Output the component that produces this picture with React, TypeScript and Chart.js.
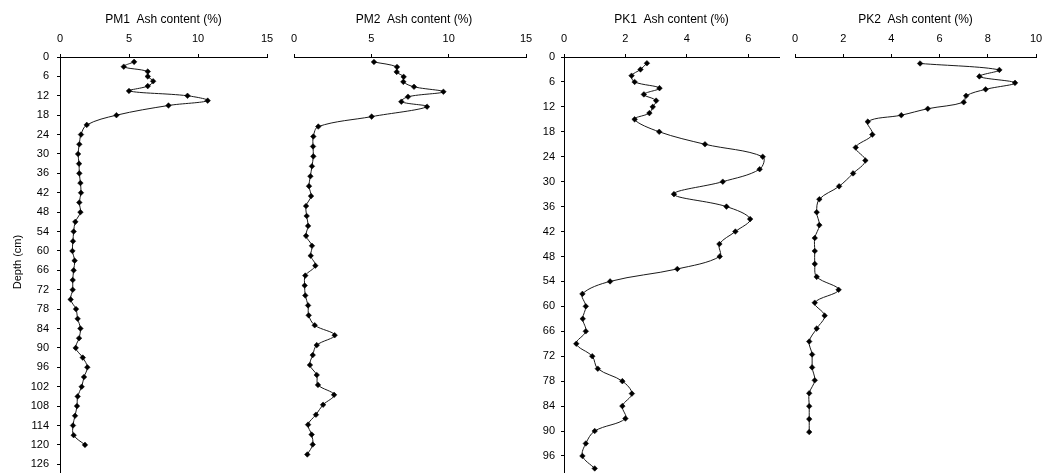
import React, { useEffect, useRef } from 'react';
import { Chart, registerables } from 'chart.js';

Chart.register(...registerables);

const FONT = '"Liberation Sans", Arial, Helvetica, sans-serif';

// Depths (cm) of the samples
const depthPM = [1.5, 3, 4.5, 6, 7.5, 9, 10.5, 12, 13.5, 15, 18, 21, 24, 27, 30, 33, 36, 39, 42, 45, 48, 51, 54, 57, 60, 63, 66, 69, 72, 75, 78, 81, 84, 87, 90, 93, 96, 99, 102, 105, 108, 111, 114, 117, 120];
const depthPK1 = [1.5, 3, 4.5, 6, 7.5, 9, 10.5, 12, 13.5, 15, 18, 21, 24, 27, 30, 33, 36, 39, 42, 45, 48, 51, 54, 57, 60, 63, 66, 69, 72, 75, 78, 81, 84, 87, 90, 93, 96, 99];
const depthPK2 = [1.5, 3, 4.5, 6, 7.5, 9, 10.5, 12, 13.5, 15, 18, 21, 24, 27, 30, 33, 36, 39, 42, 45, 48, 51, 54, 57, 60, 63, 66, 69, 72, 75, 78, 81, 84, 87];

// Ash content (%)
const pm1Ash = [5.37, 4.62, 6.36, 6.36, 6.75, 6.36, 5.0, 9.24, 10.7, 7.86, 4.09, 1.94, 1.52, 1.4, 1.31, 1.38, 1.4, 1.48, 1.52, 1.4, 1.48, 1.11, 0.99, 0.94, 0.9, 1.06, 0.99, 0.92, 0.92, 0.77, 1.16, 1.28, 1.48, 1.38, 1.14, 1.65, 1.98, 1.74, 1.57, 1.28, 1.23, 1.09, 0.94, 0.99, 1.81];
const pm2Ash = [5.17, 6.66, 6.64, 7.09, 7.07, 7.76, 9.66, 7.37, 6.94, 8.6, 5.02, 1.57, 1.25, 1.23, 1.25, 1.16, 1.06, 0.97, 1.1, 0.78, 0.82, 0.91, 0.78, 1.16, 1.08, 1.38, 0.73, 0.69, 0.73, 0.91, 0.95, 1.34, 2.63, 1.47, 1.21, 1.03, 1.47, 1.55, 2.59, 1.88, 1.42, 0.91, 1.14, 1.21, 0.86];
const pk1Ash = [2.7, 2.49, 2.2, 2.3, 3.11, 2.6, 3.0, 2.89, 2.78, 2.3, 3.1, 4.59, 6.47, 6.37, 5.17, 3.58, 5.29, 6.06, 5.58, 5.06, 5.07, 3.69, 1.5, 0.6, 0.71, 0.61, 0.71, 0.4, 0.92, 1.1, 1.9, 2.21, 1.9, 2.0, 1.0, 0.71, 0.6, 1.0];
const pk2Ash = [5.19, 8.48, 7.65, 9.13, 7.91, 7.1, 7.0, 5.51, 4.41, 3.02, 3.21, 2.52, 2.92, 2.41, 1.83, 1.01, 0.9, 1.01, 0.82, 0.82, 0.82, 0.9, 1.81, 0.82, 1.23, 0.9, 0.59, 0.71, 0.71, 0.82, 0.59, 0.59, 0.59, 0.59];

const panelTitles = ['PM1  Ash content (%)', 'PM2  Ash content (%)', 'PK1  Ash content (%)', 'PK2  Ash content (%)'];
const depthTitle = 'Depth (cm)';

type PanelDef = {
  title: string;
  depths: number[];
  values: number[];
  xMax: number;
  xStep: number;
  yMax: number;
  showY: boolean;
  yTitle: boolean;
  canvasLeft: number;
  width: number;
  padLeft: number;
  yWidth: number;
  yTickPad: number;
  titleDx: number;
};

const CANVAS_H = 500;
const PAD_BOTTOM = 27;
const AXIS_H = 57;

const panels: PanelDef[] = [
  { title: panelTitles[0], depths: depthPM, values: pm1Ash, xMax: 15, xStep: 5, yMax: 128.7, showY: true, yTitle: true, canvasLeft: 0, width: 283, padLeft: 0, yWidth: 60, yTickPad: 8, titleDx: 0 },
  { title: panelTitles[1], depths: depthPM, values: pm2Ash, xMax: 15, xStep: 5, yMax: 125.6, showY: false, yTitle: false, canvasLeft: 280, width: 262, padLeft: 14, yWidth: 0, yTickPad: 8, titleDx: 4 },
  { title: panelTitles[2], depths: depthPK1, values: pk1Ash, xMax: 7, xStep: 2, yMax: 100.1, showY: true, yTitle: false, canvasLeft: 524, width: 271, padLeft: 0, yWidth: 40, yTickPad: 6, titleDx: 0 },
  { title: panelTitles[3], depths: depthPK2, values: pk2Ash, xMax: 10, xStep: 2, yMax: 96.5, showY: false, yTitle: false, canvasLeft: 781, width: 271, padLeft: 14, yWidth: 0, yTickPad: 8, titleDx: 0 },
];

const titlePlugin = {
  id: 'panelTitle',
  afterDraw(chart: any, _args: any, opts: any) {
    const { ctx, chartArea } = chart;
    ctx.save();
    ctx.fillStyle = '#000';
    ctx.textAlign = 'center';
    ctx.textBaseline = 'middle';
    ctx.font = `12px ${FONT}`;
    ctx.fillText(opts.text, (chartArea.left + chartArea.right) / 2 + (opts.dx || 0), 20);
    if (opts.yTitle) {
      ctx.font = `11px ${FONT}`;
      ctx.translate(17.5, 262);
      ctx.rotate(-Math.PI / 2);
      ctx.fillText(opts.yTitle, 0, 0);
    }
    ctx.restore();
  },
};

function Panel({ p }: { p: PanelDef }) {
  const ref = useRef<HTMLCanvasElement | null>(null);
  useEffect(() => {
    if (!ref.current) return;
    const data = p.depths.map((d, i) => ({ x: p.values[i], y: d }));
    const tickFont = { family: FONT, size: 11 };
    const chart = new Chart(ref.current, {
      type: 'line',
      data: {
        datasets: [
          {
            data,
            borderColor: '#1a1a1a',
            borderWidth: 1,
            tension: 0.35,
            pointStyle: 'rectRot',
            pointRadius: 2.8,
            pointBackgroundColor: '#000',
            pointBorderColor: '#000',
            pointBorderWidth: 0.5,
            fill: false,
          },
        ],
      },
      options: {
        responsive: false,
        animation: false,
        indexAxis: 'y',
        events: [],
        layout: { padding: { left: p.padLeft, right: 16, top: 0, bottom: PAD_BOTTOM } },
        plugins: {
          legend: { display: false },
          tooltip: { enabled: false },
          panelTitle: { text: p.title, dx: p.titleDx, yTitle: p.yTitle ? depthTitle : '' },
        } as any,
        scales: {
          x: {
            type: 'linear',
            position: 'top',
            min: 0,
            max: p.xMax,
            ticks: { stepSize: p.xStep, includeBounds: false, padding: 8, font: tickFont, color: '#000', maxRotation: 0, autoSkip: false },
            grid: { drawOnChartArea: false, drawTicks: true, tickLength: 3, color: '#000', lineWidth: 1 },
            border: { display: true, color: '#000', width: 1 },
            afterFit: (s: any) => { s.height = AXIS_H; },
          },
          y: {
            type: 'linear',
            reverse: true,
            min: 0,
            max: p.yMax,
            display: p.showY,
            ticks: { stepSize: 6, includeBounds: false, padding: p.yTickPad, font: tickFont, color: '#000', autoSkip: false },
            grid: { drawOnChartArea: false, drawTicks: true, tickLength: 3, color: '#000', lineWidth: 1 },
            border: { display: true, color: '#000', width: 1 },
            ...(p.showY ? { afterFit: (s: any) => { s.width = p.yWidth; } } : {}),
          },
        },
      } as any,
      plugins: [titlePlugin as any],
    });
    return () => chart.destroy();
  }, []);
  return (
    <canvas
      ref={ref}
      width={p.width}
      height={CANVAS_H}
      style={{ position: 'absolute', left: p.canvasLeft, top: 0, width: p.width, height: CANVAS_H }}
    />
  );
}

export default function App() {
  return (
    <div style={{ position: 'fixed', left: 0, top: 0, width: 1042, height: 473, overflow: 'hidden', background: '#fff' }}>
      {panels.map((p, i) => (
        <Panel key={i} p={p} />
      ))}
    </div>
  );
}
